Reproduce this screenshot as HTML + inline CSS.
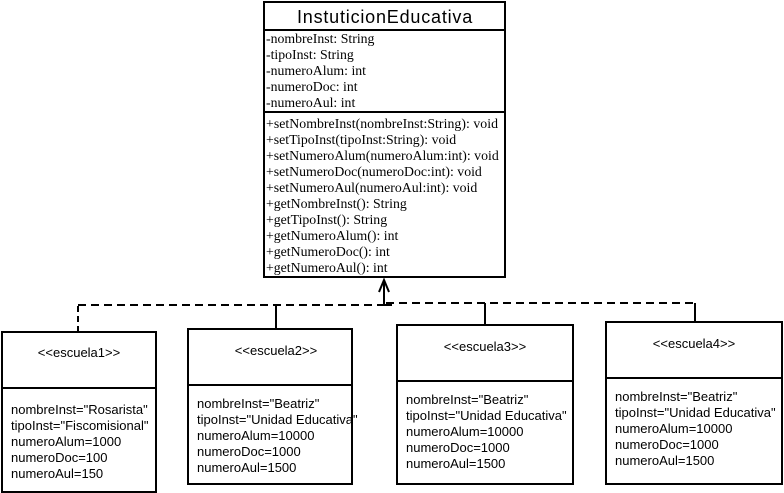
<!DOCTYPE html>
<html><head><meta charset="utf-8"><style>
html,body{margin:0;padding:0;background:#fff;}
svg{display:block;}
.s{font-family:"Liberation Serif",serif;font-size:13.8px;fill:#000;}
.a{font-family:"Liberation Sans",sans-serif;font-size:13px;fill:#000;}
</style></head><body>
<svg width="784" height="493" viewBox="0 0 784 493" xmlns="http://www.w3.org/2000/svg">
<g fill="none" stroke="#000" stroke-width="2">
<rect x="264" y="2" width="241" height="275" fill="#fff"/>
<line x1="264" y1="30" x2="505" y2="30"/>
<line x1="264" y1="112" x2="505" y2="112"/>
<rect x="2" y="332" width="154" height="160"/>
<line x1="2" y1="388" x2="156" y2="388"/>
<rect x="188" y="329" width="164" height="155"/>
<line x1="188" y1="385" x2="352" y2="385"/>
<rect x="397" y="325" width="176" height="159"/>
<line x1="397" y1="381" x2="573" y2="381"/>
<rect x="606" y="322" width="176" height="162"/>
<line x1="606" y1="378" x2="782" y2="378"/>
<line x1="78" y1="332" x2="78" y2="305" stroke-dasharray="6,4"/>
<line x1="78" y1="305" x2="384" y2="305" stroke-dasharray="8,5"/>
<line x1="276" y1="329" x2="276" y2="305"/>
<line x1="386" y1="303" x2="695" y2="303" stroke-dasharray="8,5"/>
<line x1="485" y1="325" x2="485" y2="303"/>
<line x1="695" y1="322" x2="695" y2="303"/>
<line x1="384" y1="305" x2="384" y2="280"/>
<polyline points="379,292 384,280 389,292"/>
<line x1="384" y1="305" x2="392" y2="305"/>
</g>
<text x="385" y="23" text-anchor="middle" font-family="Liberation Sans,sans-serif" font-size="18" letter-spacing="0.8">InstuticionEducativa</text>
<g class="s">
<text x="266" y="43">-nombreInst: String</text>
<text x="266" y="59">-tipoInst: String</text>
<text x="266" y="75">-numeroAlum: int</text>
<text x="266" y="91">-numeroDoc: int</text>
<text x="266" y="107">-numeroAul: int</text>
<text x="266" y="128" textLength="232">+setNombreInst(nombreInst:String): void</text>
<text x="266" y="144">+setTipoInst(tipoInst:String): void</text>
<text x="266" y="160">+setNumeroAlum(numeroAlum:int): void</text>
<text x="266" y="176">+setNumeroDoc(numeroDoc:int): void</text>
<text x="266" y="192">+setNumeroAul(numeroAul:int): void</text>
<text x="266" y="208">+getNombreInst(): String</text>
<text x="266" y="224">+getTipoInst(): String</text>
<text x="266" y="240">+getNumeroAlum(): int</text>
<text x="266" y="256">+getNumeroDoc(): int</text>
<text x="266" y="272">+getNumeroAul(): int</text>
</g>
<g class="a">
<text x="79" y="357" text-anchor="middle">&lt;&lt;escuela1&gt;&gt;</text>
<text x="11" y="414">nombreInst="Rosarista"</text>
<text x="11" y="430">tipoInst="Fiscomisional"</text>
<text x="11" y="446">numeroAlum=1000</text>
<text x="11" y="462">numeroDoc=100</text>
<text x="11" y="478">numeroAul=150</text>

<text x="276" y="355" text-anchor="middle">&lt;&lt;escuela2&gt;&gt;</text>
<text x="197" y="408">nombreInst="Beatriz"</text>
<text x="197" y="424">tipoInst="Unidad Educativa"</text>
<text x="197" y="440">numeroAlum=10000</text>
<text x="197" y="456">numeroDoc=1000</text>
<text x="197" y="472">numeroAul=1500</text>

<text x="485" y="351" text-anchor="middle">&lt;&lt;escuela3&gt;&gt;</text>
<text x="406" y="404">nombreInst="Beatriz"</text>
<text x="406" y="420">tipoInst="Unidad Educativa"</text>
<text x="406" y="436">numeroAlum=10000</text>
<text x="406" y="452">numeroDoc=1000</text>
<text x="406" y="468">numeroAul=1500</text>

<text x="694" y="348" text-anchor="middle">&lt;&lt;escuela4&gt;&gt;</text>
<text x="615" y="401">nombreInst="Beatriz"</text>
<text x="615" y="417">tipoInst="Unidad Educativa"</text>
<text x="615" y="433">numeroAlum=10000</text>
<text x="615" y="449">numeroDoc=1000</text>
<text x="615" y="465">numeroAul=1500</text>
</g>
</svg>
</body></html>
